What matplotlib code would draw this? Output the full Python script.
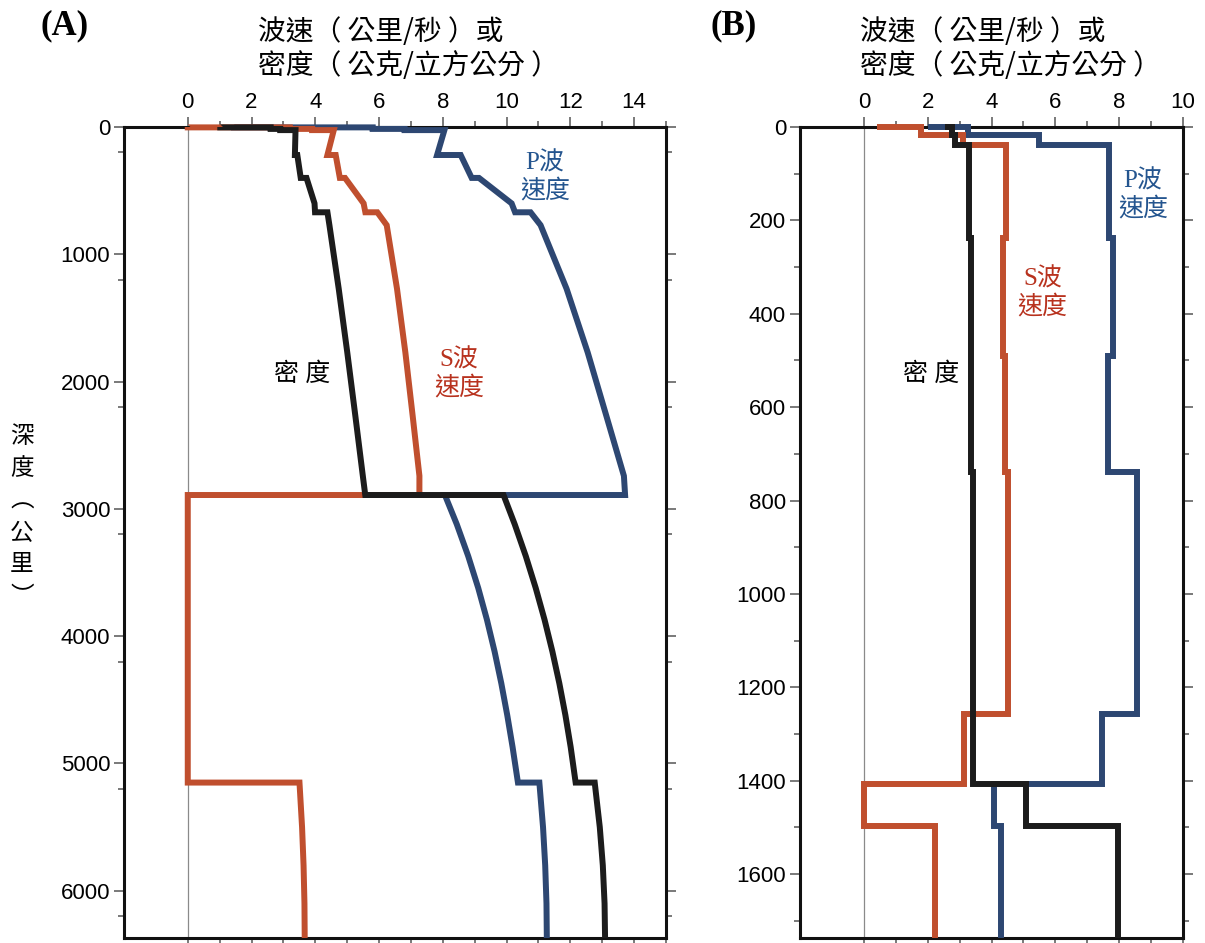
import matplotlib

matplotlib.use("Agg")
import matplotlib.pyplot as plt
import numpy as np
from matplotlib.ticker import FixedLocator

# Panel A: Earth profile, depth in km
EARTH_DEPTH = [0, 3, 3, 15, 15, 24.4, 24.4, 220, 220, 400, 400, 600, 670, 670,
               771, 1271, 1771, 2271, 2741, 2891, 2891, 3121, 3371, 3621, 3871,
               4121, 4371, 4621, 4871, 5150, 5150, 5500, 5800, 6100, 6371]
EARTH_RHO = [1.02, 1.02, 2.6, 2.6, 2.9, 2.9, 3.38, 3.36, 3.436, 3.543, 3.724,
             3.976, 3.992, 4.381, 4.443, 4.735, 5.003, 5.257, 5.491, 5.567,
             9.904, 10.255, 10.602, 10.913, 11.191, 11.437, 11.655, 11.845,
             12.010, 12.166, 12.764, 12.923, 13.018, 13.073, 13.089]
EARTH_VP = [1.45, 1.45, 5.8, 5.8, 6.8, 6.8, 8.05, 7.82, 8.56, 8.905, 9.134,
            10.158, 10.266, 10.751, 11.066, 11.882, 12.544, 13.131, 13.680,
            13.717, 8.065, 8.438, 8.796, 9.110, 9.384, 9.624, 9.835, 10.021,
            10.188, 10.356, 11.028, 11.143, 11.211, 11.251, 11.262]
EARTH_VS = [0, 0, 3.2, 3.2, 3.9, 3.9, 4.58, 4.38, 4.64, 4.770, 4.932, 5.516,
            5.570, 5.945, 6.240, 6.563, 6.825, 7.055, 7.266, 7.265, 0, 0, 0,
            0, 0, 0, 0, 0, 0, 0, 3.504, 3.585, 3.632, 3.660, 3.668]

# Panel B: Moon profile, depth in km
MOON_DEPTH = [0, 1, 1, 17, 17, 39, 39, 238, 238, 490, 490, 738, 738, 1257,
              1257, 1407, 1407, 1497, 1497, 1737]
MOON_RHO = [2.55, 2.55, 2.75, 2.75, 2.85, 2.85, 3.3, 3.3, 3.36, 3.36, 3.36,
            3.36, 3.41, 3.41, 3.41, 3.41, 5.09, 5.09, 7.97, 7.97]
MOON_VP = [2.0, 2.0, 3.25, 3.25, 5.5, 5.5, 7.68, 7.68, 7.82, 7.82, 7.66, 7.66,
           8.55, 8.55, 7.47, 7.47, 4.09, 4.09, 4.30, 4.30]
MOON_VS = [0.4, 0.4, 1.78, 1.78, 3.1, 3.1, 4.46, 4.46, 4.36, 4.36, 4.41, 4.41,
           4.51, 4.51, 3.15, 3.15, 0, 0, 2.24, 2.24]

BLUE = "#2d4772"
RED = "#c04f2e"
BLACK = "#1c1c1c"
CJK = ["Liberation Serif", "Noto Sans CJK TC"]

plt.rcParams["font.family"] = ["Liberation Sans", "Noto Sans CJK TC"]


def style_axis(ax, xmax, ymax, ymajor, yminor):
    ax.set_xlim(-2, xmax)
    ax.set_ylim(ymax, 0)
    ax.xaxis.tick_top()
    ax.set_xticks(np.arange(0, xmax + 0.1, 2))
    ax.xaxis.set_minor_locator(FixedLocator(np.arange(1, xmax + 0.1, 2)))
    ax.set_yticks(np.arange(0, ymax, ymajor))
    ax.yaxis.set_minor_locator(FixedLocator(np.arange(yminor, ymax, ymajor)))
    ax.tick_params(which="both", direction="out", top=True, bottom=True,
                   left=True, right=True, labeltop=True, labelbottom=False,
                   labelleft=True, labelright=False, color="#555555",
                   width=1.1, labelsize=16, pad=3)
    ax.tick_params(which="major", length=7)
    ax.tick_params(which="minor", length=4)
    for spine in ax.spines.values():
        spine.set_linewidth(2.2)
        spine.set_color("#111111")
    ax.axvline(0, color="#8a8a8a", lw=0.9, zorder=1)


def draw(ax, depth, rho, vp, vs):
    kw = dict(lw=4.3, solid_joinstyle="miter", solid_capstyle="butt", clip_on=False)
    ax.plot(vp, depth, color=BLUE, zorder=3, **kw)
    ax.plot(vs, depth, color=RED, zorder=4, **kw)
    ax.plot(rho, depth, color=BLACK, zorder=5, **kw)


fig = plt.figure(figsize=(12.05, 9.43), dpi=100)
ax_a = fig.add_axes([124 / 1205, 5 / 943, 542 / 1205, 811 / 943])
ax_b = fig.add_axes([800 / 1205, 5 / 943, 383 / 1205, 811 / 943])

draw(ax_a, EARTH_DEPTH, EARTH_RHO, EARTH_VP, EARTH_VS)
style_axis(ax_a, 15, 6371, 1000, 200)
draw(ax_b, MOON_DEPTH, MOON_RHO, MOON_VP, MOON_VS)
style_axis(ax_b, 10, 1737, 200, 100)

# series labels
lab = dict(ha="center", va="center", fontsize=18, family=CJK, linespacing=1.2)
ax_a.text(11.2, 390, "P波\n速度", color="#24558f", **lab)
ax_a.text(8.5, 1940, "S波\n速度", color="#b8321e", **lab)
ax_a.text(3.6, 1940, "密 度", color="black", **lab)
ax_b.text(8.75, 145, "P波\n速度", color="#24558f", **lab)
ax_b.text(5.6, 355, "S波\n速度", color="#b8321e", **lab)
ax_b.text(2.1, 530, "密 度", color="black", **lab)

# titles and panel letters
for x0, letter, lx in ((258, "(A)", 40), (860, "(B)", 710)):
    fig.text(x0 / 1205, 1 - 32 / 943, "波速（ 公里/秒 ）或", ha="left",
             va="center", fontsize=20, family=["Noto Sans CJK TC"])
    fig.text(x0 / 1205, 1 - 66 / 943, "密度（ 公克/立方公分 ）", ha="left",
             va="center", fontsize=20, family=["Noto Sans CJK TC"])
    fig.text(lx / 1205, 1 - 26 / 943, letter, ha="left", va="center",
             fontsize=25, fontweight="bold", family=["Liberation Serif"])

# vertical axis title, one character per row (vertical-form brackets)
for i, ch in enumerate(["深", "度", "︵", "公", "里", "︶"]):
    fig.text(22 / 1205, 1 - (437 + 32 * i) / 943, ch, ha="center", va="center",
             fontsize=17, family=["Noto Sans CJK JP"])

fig.savefig("out.png", dpi=100)
